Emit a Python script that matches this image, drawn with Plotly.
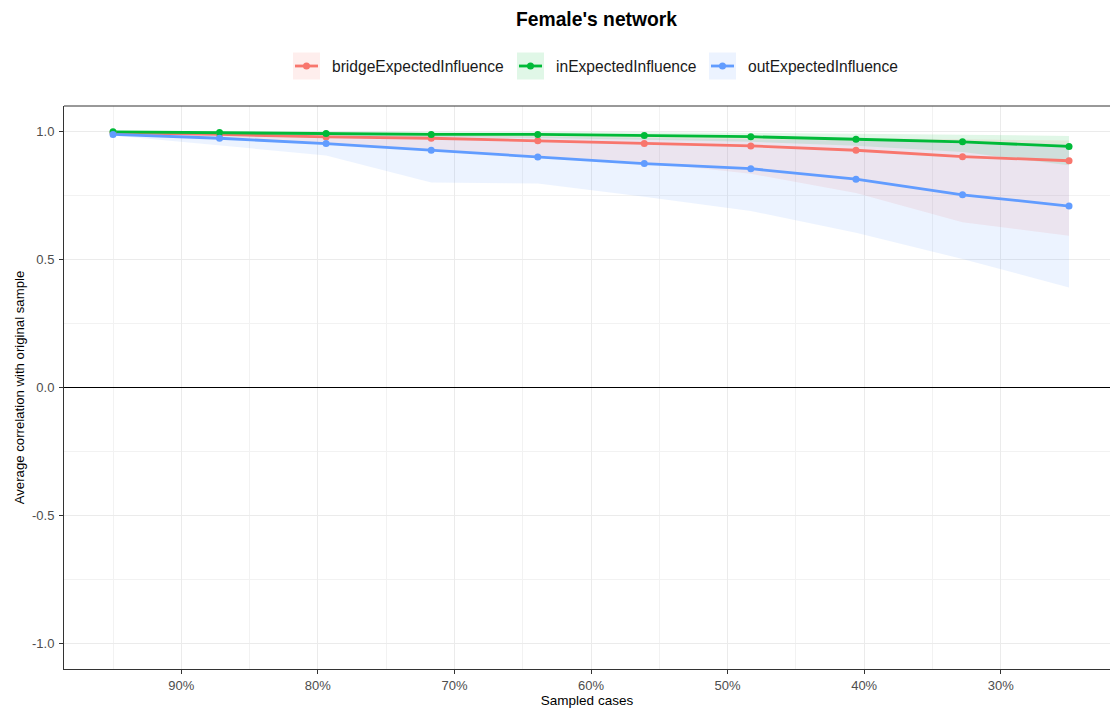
import plotly.graph_objects as go

# Proportion of cases retained in each case-dropping step (percent)
sampled_pct = [95.0, 87.2, 79.4, 71.7, 63.9, 56.1, 48.3, 40.6, 32.8, 25.0]

series_names = ["bridgeExpectedInfluence", "inExpectedInfluence", "outExpectedInfluence"]
series_colors = ["#F8766D", "#00BA38", "#619CFF"]

# Average correlation with the original sample, with 2.5% / 97.5% quantiles
bridge_mean = [0.995, 0.989, 0.979, 0.974, 0.964, 0.953, 0.944, 0.927, 0.902, 0.886]
bridge_low = [0.990, 0.972, 0.955, 0.930, 0.905, 0.880, 0.835, 0.760, 0.646, 0.593]
bridge_high = [0.999, 0.998, 0.995, 0.992, 0.988, 0.984, 0.980, 0.975, 0.970, 0.965]

in_mean = [0.999, 0.996, 0.993, 0.989, 0.989, 0.985, 0.980, 0.970, 0.960, 0.942]
in_low = [0.997, 0.990, 0.985, 0.978, 0.975, 0.968, 0.960, 0.945, 0.920, 0.868]
in_high = [1.000, 1.000, 1.000, 0.999, 0.998, 0.997, 0.995, 0.992, 0.988, 0.983]

out_mean = [0.989, 0.974, 0.953, 0.927, 0.901, 0.875, 0.855, 0.814, 0.753, 0.709]
out_low = [0.985, 0.946, 0.907, 0.801, 0.797, 0.745, 0.690, 0.605, 0.502, 0.391]
out_high = [0.998, 0.995, 0.990, 0.985, 0.980, 0.975, 0.970, 0.965, 0.960, 0.950]

x_ticks = [90, 80, 70, 60, 50, 40, 30]
x_tick_labels = ["90%", "80%", "70%", "60%", "50%", "40%", "30%"]
x_minor = [95, 85, 75, 65, 55, 45, 35]
y_ticks = [-1.0, -0.5, 0.0, 0.5, 1.0]
y_tick_labels = ["-1.0", "-0.5", "0.0", "0.5", "1.0"]
y_minor = [-0.75, -0.25, 0.25, 0.75]

means = [bridge_mean, in_mean, out_mean]
lows = [bridge_low, in_low, out_low]
highs = [bridge_high, in_high, out_high]

FONT = "Liberation Sans, Arial, sans-serif"
W, H = 1110, 715
L, R, T, B = 64, 0, 106, 46


def rgba(hex_color, a):
    h = hex_color.lstrip("#")
    r, g, b = int(h[0:2], 16), int(h[2:4], 16), int(h[4:6], 16)
    return f"rgba({r},{g},{b},{a})"


fig = go.Figure()

# Confidence ribbons
for name, color, lo, hi in zip(series_names, series_colors, lows, highs):
    fig.add_trace(go.Scatter(
        x=sampled_pct + sampled_pct[::-1],
        y=hi + lo[::-1],
        fill="toself",
        fillcolor=rgba(color, 0.12),
        line=dict(width=0),
        mode="lines",
        hoverinfo="skip",
        showlegend=False,
    ))

# Mean lines
for name, color, m in zip(series_names, series_colors, means):
    fig.add_trace(go.Scatter(
        x=sampled_pct, y=m, mode="lines",
        line=dict(color=color, width=2.8),
        name=name, showlegend=False,
    ))

# Points
for name, color, m in zip(series_names, series_colors, means):
    fig.add_trace(go.Scatter(
        x=sampled_pct, y=m, mode="markers",
        marker=dict(color=color, size=7, line=dict(width=0)),
        name=name, showlegend=False,
    ))

pw = W - L - R
ph = H - T - B


def px(x):
    return (x - L) / pw


def py(y):
    return (H - B - y) / ph


shapes = []
annotations = []

# Top edge of the panel border
shapes.append(dict(type="line", xref="paper", yref="paper",
                   x0=0, x1=1.01, y0=1, y1=1,
                   line=dict(color="#333333", width=1), layer="above"))

# Legend drawn as keys with ribbon-coloured backgrounds
key_left = [293, 517, 709]
key_size = 27
key_cy = 66
for name, color, kx in zip(series_names, series_colors, key_left):
    shapes.append(dict(type="rect", xref="paper", yref="paper",
                       x0=px(kx), x1=px(kx + key_size),
                       y0=py(key_cy + key_size / 2), y1=py(key_cy - key_size / 2),
                       fillcolor=rgba(color, 0.12), line=dict(width=0), layer="above"))
    shapes.append(dict(type="line", xref="paper", yref="paper",
                       x0=px(kx + 2), x1=px(kx + key_size - 2),
                       y0=py(key_cy), y1=py(key_cy),
                       line=dict(color=color, width=2.8), layer="above"))
    cx = kx + key_size / 2
    shapes.append(dict(type="circle", xref="paper", yref="paper",
                       x0=px(cx - 3.5), x1=px(cx + 3.5),
                       y0=py(key_cy + 3.5), y1=py(key_cy - 3.5),
                       fillcolor=color, line=dict(width=0), layer="above"))
    annotations.append(dict(text=name, xref="paper", yref="paper",
                            x=px(kx + key_size + 10), y=py(key_cy),
                            xanchor="left", yanchor="middle", showarrow=False,
                            font=dict(family=FONT, size=15.6, color="#1a1a1a")))

# Title
annotations.append(dict(text="<b>Female's network</b>", xref="paper", yref="paper",
                        x=px(596), y=py(20), xanchor="center", yanchor="middle",
                        showarrow=False, font=dict(family=FONT, size=19.3, color="black")))

fig.update_layout(
    width=W, height=H,
    margin=dict(l=L, r=R, t=T, b=B),
    paper_bgcolor="white", plot_bgcolor="white",
    showlegend=False,
    shapes=shapes,
    annotations=annotations,
    font=dict(family=FONT),
)

fig.update_xaxes(
    range=[98.59, 22.0],
    tickmode="array", tickvals=x_ticks, ticktext=x_tick_labels,
    ticks="outside", ticklen=4, tickcolor="#333333", tickwidth=1,
    tickfont=dict(family=FONT, size=13, color="#4D4D4D"),
    showgrid=True, gridcolor="#EBEBEB", gridwidth=1,
    minor=dict(tickmode="array", tickvals=x_minor, showgrid=True,
               gridcolor="#F2F2F2", gridwidth=1, ticks=""),
    showline=True, linecolor="#333333", linewidth=1, mirror=False,
    zeroline=False,
    title=dict(text="Sampled cases", font=dict(family=FONT, size=13.5, color="black"),
               standoff=3),
)

fig.update_yaxes(
    range=[-1.1, 1.1],
    tickmode="array", tickvals=y_ticks, ticktext=y_tick_labels,
    ticks="outside", ticklen=4, tickcolor="#333333", tickwidth=1,
    tickfont=dict(family=FONT, size=13, color="#4D4D4D"),
    ticklabelstandoff=2,
    showgrid=True, gridcolor="#EBEBEB", gridwidth=1,
    minor=dict(tickmode="array", tickvals=y_minor, showgrid=True,
               gridcolor="#F2F2F2", gridwidth=1, ticks=""),
    showline=True, linecolor="#333333", linewidth=1, mirror=False,
    zeroline=True, zerolinecolor="black", zerolinewidth=1,
    title=dict(text="Average correlation with original sample",
               font=dict(family=FONT, size=13.2, color="black"), standoff=4),
)

fig.write_html("out.html")
